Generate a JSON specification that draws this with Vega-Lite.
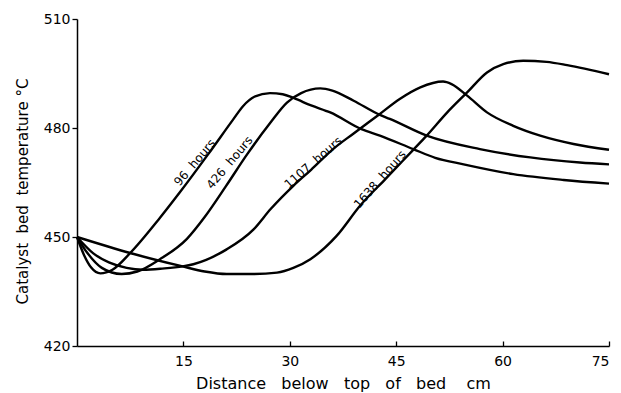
{
  "$schema": "https://vega.github.io/schema/vega-lite/v6.json",
  "autosize": {"type": "none"},
  "width": 532,
  "height": 327,
  "padding": {"left": 77, "top": 19, "right": 12, "bottom": 47},
  "background": "white",
  "config": {
    "view": {"stroke": null},
    "font": "DejaVu Sans",
    "axis": {
      "grid": false,
      "domainColor": "black",
      "domainWidth": 1.5,
      "tickColor": "black",
      "tickWidth": 1.3,
      "labelColor": "black",
      "titleColor": "black",
      "labelFont": "DejaVu Sans",
      "titleFont": "DejaVu Sans",
      "titleFontWeight": "normal"
    }
  },
  "datasets": {
    "curves": [
      {"series": "96", "distance": 0, "temp": 450},
      {"series": "96", "distance": 1, "temp": 445},
      {"series": "96", "distance": 2, "temp": 441.6},
      {"series": "96", "distance": 3.3, "temp": 440},
      {"series": "96", "distance": 5, "temp": 441},
      {"series": "96", "distance": 7.5, "temp": 445.6},
      {"series": "96", "distance": 11.7, "temp": 455.3},
      {"series": "96", "distance": 14.5, "temp": 462.3},
      {"series": "96", "distance": 18.5, "temp": 472.8},
      {"series": "96", "distance": 22, "temp": 482.3},
      {"series": "96", "distance": 23.4, "temp": 486},
      {"series": "96", "distance": 25, "temp": 488.6},
      {"series": "96", "distance": 27.2, "temp": 489.6},
      {"series": "96", "distance": 29, "temp": 489.3},
      {"series": "96", "distance": 30.6, "temp": 488.2},
      {"series": "96", "distance": 33, "temp": 486.2},
      {"series": "96", "distance": 35.7, "temp": 484.3},
      {"series": "96", "distance": 40.1, "temp": 479.7},
      {"series": "96", "distance": 42.7, "temp": 477.9},
      {"series": "96", "distance": 47.4, "temp": 474.2},
      {"series": "96", "distance": 50.5, "temp": 471.8},
      {"series": "96", "distance": 54.5, "temp": 470},
      {"series": "96", "distance": 61.5, "temp": 467.3},
      {"series": "96", "distance": 68.6, "temp": 465.7},
      {"series": "96", "distance": 75, "temp": 464.7},

      {"series": "426", "distance": 0, "temp": 450},
      {"series": "426", "distance": 1.5, "temp": 445.5},
      {"series": "426", "distance": 3.5, "temp": 441.5},
      {"series": "426", "distance": 6.3, "temp": 439.8},
      {"series": "426", "distance": 8.5, "temp": 440.5},
      {"series": "426", "distance": 11.7, "temp": 443.9},
      {"series": "426", "distance": 15.5, "temp": 449.5},
      {"series": "426", "distance": 18, "temp": 455.5},
      {"series": "426", "distance": 21, "temp": 464},
      {"series": "426", "distance": 24, "temp": 472.8},
      {"series": "426", "distance": 27.2, "temp": 481.3},
      {"series": "426", "distance": 29.6, "temp": 487},
      {"series": "426", "distance": 31.6, "temp": 489.6},
      {"series": "426", "distance": 34.3, "temp": 490.9},
      {"series": "426", "distance": 36, "temp": 490.3},
      {"series": "426", "distance": 39, "temp": 487.5},
      {"series": "426", "distance": 42.7, "temp": 483.6},
      {"series": "426", "distance": 44.1, "temp": 482.5},
      {"series": "426", "distance": 49.3, "temp": 477.9},
      {"series": "426", "distance": 56.8, "temp": 474.2},
      {"series": "426", "distance": 63.9, "temp": 471.9},
      {"series": "426", "distance": 70.9, "temp": 470.5},
      {"series": "426", "distance": 75, "temp": 470},

      {"series": "1107", "distance": 0, "temp": 450},
      {"series": "1107", "distance": 2.3, "temp": 445.5},
      {"series": "1107", "distance": 4.5, "temp": 443},
      {"series": "1107", "distance": 7, "temp": 441.5},
      {"series": "1107", "distance": 9.3, "temp": 441},
      {"series": "1107", "distance": 12, "temp": 441.3},
      {"series": "1107", "distance": 14.9, "temp": 441.9},
      {"series": "1107", "distance": 16.4, "temp": 442.5},
      {"series": "1107", "distance": 21.1, "temp": 446.6},
      {"series": "1107", "distance": 24.9, "temp": 452.1},
      {"series": "1107", "distance": 27.3, "temp": 457.7},
      {"series": "1107", "distance": 30.5, "temp": 464.1},
      {"series": "1107", "distance": 33, "temp": 468.5},
      {"series": "1107", "distance": 36.1, "temp": 474.2},
      {"series": "1107", "distance": 39, "temp": 478.5},
      {"series": "1107", "distance": 42.5, "temp": 483.6},
      {"series": "1107", "distance": 45.5, "temp": 488},
      {"series": "1107", "distance": 48.4, "temp": 491.2},
      {"series": "1107", "distance": 51.6, "temp": 492.8},
      {"series": "1107", "distance": 52.8, "temp": 492.1},
      {"series": "1107", "distance": 55, "temp": 488.9},
      {"series": "1107", "distance": 57.8, "temp": 484.3},
      {"series": "1107", "distance": 61.5, "temp": 480.6},
      {"series": "1107", "distance": 65.3, "temp": 477.9},
      {"series": "1107", "distance": 70, "temp": 475.6},
      {"series": "1107", "distance": 75, "temp": 474},

      {"series": "1638", "distance": 0, "temp": 450},
      {"series": "1638", "distance": 7.5, "temp": 445.6},
      {"series": "1638", "distance": 14.9, "temp": 441.9},
      {"series": "1638", "distance": 18, "temp": 440.5},
      {"series": "1638", "distance": 21.1, "temp": 439.8},
      {"series": "1638", "distance": 25, "temp": 439.8},
      {"series": "1638", "distance": 28.2, "temp": 440.2},
      {"series": "1638", "distance": 30.5, "temp": 441.5},
      {"series": "1638", "distance": 32.9, "temp": 443.9},
      {"series": "1638", "distance": 36.6, "temp": 450.3},
      {"series": "1638", "distance": 39.9, "temp": 458.6},
      {"series": "1638", "distance": 43.5, "temp": 466},
      {"series": "1638", "distance": 47.4, "temp": 474},
      {"series": "1638", "distance": 49.3, "temp": 477.9},
      {"series": "1638", "distance": 52.2, "temp": 484.3},
      {"series": "1638", "distance": 55, "temp": 489.8},
      {"series": "1638", "distance": 57.8, "temp": 495.3},
      {"series": "1638", "distance": 60.1, "temp": 497.6},
      {"series": "1638", "distance": 62.9, "temp": 498.5},
      {"series": "1638", "distance": 66.2, "temp": 498.2},
      {"series": "1638", "distance": 69.1, "temp": 497.3},
      {"series": "1638", "distance": 75, "temp": 494.8}
    ],
    "labels": [
      {"label": "96\u00a0\u00a0hours", "distance": 16.6, "temp": 470.5},
      {"label": "426\u00a0\u00a0hours", "distance": 21.5, "temp": 470.5},
      {"label": "1107\u00a0\u00a0hours", "distance": 33.3, "temp": 470.5},
      {"label": "1638\u00a0\u00a0hours", "distance": 42.7, "temp": 465.9}
    ]
  },
  "layer": [
    {
      "data": {"name": "curves"},
      "mark": {"type": "line", "color": "black", "strokeWidth": 2.4, "interpolate": "monotone"},
      "encoding": {
        "x": {
          "field": "distance", "type": "quantitative",
          "scale": {"domain": [0, 75], "nice": false, "zero": false},
          "axis": {
            "values": [15, 30, 45, 60, 75],
            "tickSize": -5,
            "labelPadding": 13,
            "labelFontSize": 14,
            "title": "Distance\u00a0\u00a0\u00a0below\u00a0\u00a0\u00a0top\u00a0\u00a0\u00a0of\u00a0\u00a0\u00a0bed\u00a0\u00a0\u00a0\u00a0cm",
            "titleFontSize": 16,
            "titlePadding": 7
          }
        },
        "y": {
          "field": "temp", "type": "quantitative",
          "scale": {"domain": [420, 510], "nice": false, "zero": false},
          "axis": {
            "values": [420, 450, 480, 510],
            "tickSize": 5,
            "labelPadding": 2,
            "labelFontSize": 14,
            "title": "Catalyst\u00a0\u00a0bed\u00a0\u00a0temperature\u00a0°C",
            "titleFontSize": 15,
            "titleX": -55,
            "titleY": 172,
            "titleAngle": -90,
            "titleAlign": "center",
            "titleBaseline": "middle"
          }
        },
        "detail": {"field": "series"}
      }
    },
    {
      "data": {"name": "labels"},
      "transform": [{"filter": "indexof(datum.label, '96') == 0"}],
      "mark": {"type": "text", "angle": -50, "fontSize": 12, "color": "black", "align": "center", "baseline": "middle"},
      "encoding": {
        "x": {"field": "distance", "type": "quantitative"},
        "y": {"field": "temp", "type": "quantitative"},
        "text": {"field": "label"}
      }
    },
    {
      "data": {"name": "labels"},
      "transform": [{"filter": "indexof(datum.label, '426') == 0"}],
      "mark": {"type": "text", "angle": -50, "fontSize": 12, "color": "black", "align": "center", "baseline": "middle"},
      "encoding": {
        "x": {"field": "distance", "type": "quantitative"},
        "y": {"field": "temp", "type": "quantitative"},
        "text": {"field": "label"}
      }
    },
    {
      "data": {"name": "labels"},
      "transform": [{"filter": "indexof(datum.label, '1107') == 0"}],
      "mark": {"type": "text", "angle": -41, "fontSize": 12, "color": "black", "align": "center", "baseline": "middle"},
      "encoding": {
        "x": {"field": "distance", "type": "quantitative"},
        "y": {"field": "temp", "type": "quantitative"},
        "text": {"field": "label"}
      }
    },
    {
      "data": {"name": "labels"},
      "transform": [{"filter": "indexof(datum.label, '1638') == 0"}],
      "mark": {"type": "text", "angle": -49, "fontSize": 12, "color": "black", "align": "center", "baseline": "middle"},
      "encoding": {
        "x": {"field": "distance", "type": "quantitative"},
        "y": {"field": "temp", "type": "quantitative"},
        "text": {"field": "label"}
      }
    }
  ]
}
